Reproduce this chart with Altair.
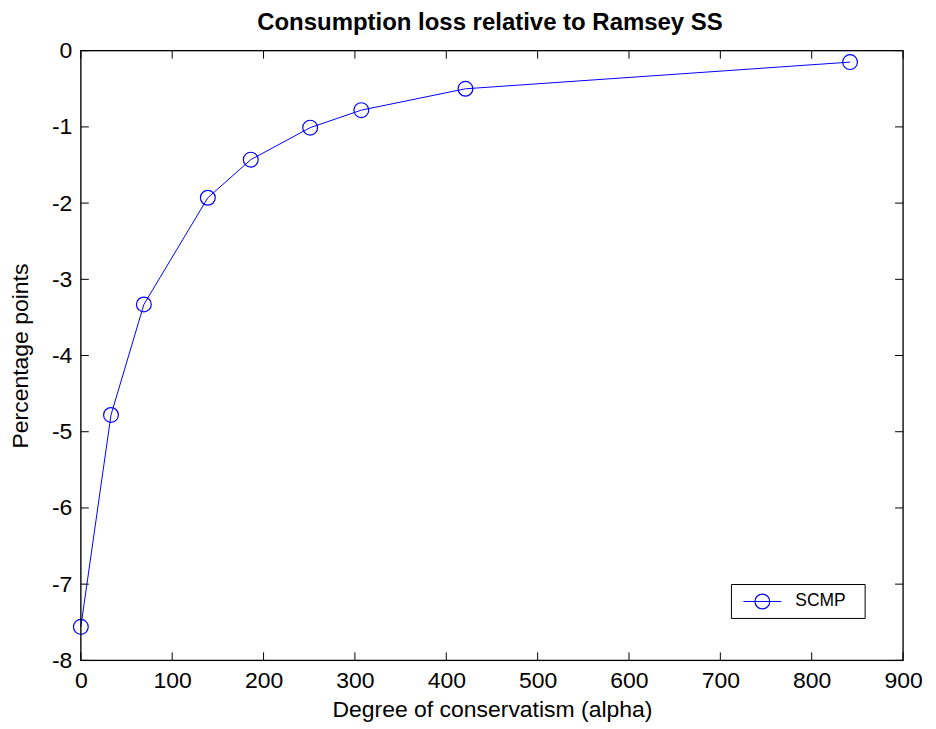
import altair as alt
import pandas as pd

alpha = [0, 33, 69, 139, 186, 251, 307, 421, 842]
loss = [-7.56, -4.78, -3.33, -1.93, -1.43, -1.01, -0.78, -0.50, -0.15]
x_ticks = [0, 100, 200, 300, 400, 500, 600, 700, 800, 900]
y_ticks = [0, -1, -2, -3, -4, -5, -6, -7, -8]
series_name = "SCMP"
chart_title = "Consumption loss relative to Ramsey SS"

W, H = 824, 611
BLUE = "#0000FF"
FONT = "Liberation Sans"
TL = 8
FS = 23

df = pd.DataFrame({"alpha": alpha, "loss": loss})
xt = pd.DataFrame({"v": x_ticks})
yt = pd.DataFrame({"v": y_ticks})

xs = alt.Scale(domain=[0, 900], nice=False, zero=False)
ys = alt.Scale(domain=[-8, 0], nice=False, zero=False)

xaxis = alt.Axis(values=x_ticks, ticks=False, domain=False, grid=False,
                 labelExpr="'' + datum.value", labelFlush=False, labelOverlap=False,
                 labelFont=FONT, labelFontSize=FS, labelColor="black",
                 labelPadding=9, title="Degree of conservatism (alpha)",
                 titleFont=FONT, titleFontSize=FS, titleFontWeight="normal",
                 titleColor="black", titleBaseline="alphabetic",
                 titleX=W / 2, titleY=56, titleAnchor="middle")
yaxis = alt.Axis(values=y_ticks, ticks=False, domain=False, grid=False,
                 labelExpr="'' + datum.value", labelFlush=False, labelOverlap=False,
                 labelFont=FONT, labelFontSize=FS, labelColor="black",
                 labelPadding=9, title="Percentage points",
                 titleFont=FONT, titleFontSize=FS, titleFontWeight="normal",
                 titleColor="black", titleBaseline="middle", titleAngle=-90,
                 titleX=-60, titleY=H / 2, titleAnchor="middle")

base = alt.Chart(df)

line = base.mark_line(color=BLUE, strokeWidth=1).encode(
    x=alt.X("alpha:Q", scale=xs, axis=xaxis),
    y=alt.Y("loss:Q", scale=ys, axis=yaxis),
)
pts = base.mark_point(shape="circle", size=220, color=BLUE, filled=False,
                      strokeWidth=1.2, opacity=1).encode(
    x=alt.X("alpha:Q", scale=xs),
    y=alt.Y("loss:Q", scale=ys),
)

frame = alt.Chart(pd.DataFrame({"f": [0]})).mark_rect(
    fill="transparent", stroke="black", strokeWidth=1.3).encode(
    x=alt.value(0), x2=alt.value(W), y=alt.value(0), y2=alt.value(H))

tick_b = alt.Chart(xt).mark_rule(color="black", strokeWidth=1).encode(
    x=alt.X("v:Q", scale=xs), y=alt.value(H), y2=alt.value(H - TL))
tick_t = alt.Chart(xt).mark_rule(color="black", strokeWidth=1).encode(
    x=alt.X("v:Q", scale=xs), y=alt.value(0), y2=alt.value(TL))
tick_l = alt.Chart(yt).mark_rule(color="black", strokeWidth=1).encode(
    y=alt.Y("v:Q", scale=ys), x=alt.value(0), x2=alt.value(TL))
tick_r = alt.Chart(yt).mark_rule(color="black", strokeWidth=1).encode(
    y=alt.Y("v:Q", scale=ys), x=alt.value(W), x2=alt.value(W - TL))

leg = pd.DataFrame({"name": [series_name]})
LX0, LY0, LX1, LY1 = 652, 535, 786, 569
LCY = (LY0 + LY1) / 2
leg_box = alt.Chart(leg).mark_rect(fill="white", stroke="black", strokeWidth=1).encode(
    x=alt.value(LX0), x2=alt.value(LX1), y=alt.value(LY0), y2=alt.value(LY1))
leg_line = alt.Chart(leg).mark_rule(color=BLUE, strokeWidth=1).encode(
    x=alt.value(LX0 + 12), x2=alt.value(LX0 + 50), y=alt.value(LCY))
leg_pt = alt.Chart(leg).mark_point(shape="circle", size=220, color=BLUE,
                                   filled=False, strokeWidth=1.2, opacity=1).encode(
    x=alt.value(LX0 + 31), y=alt.value(LCY))
leg_txt = alt.Chart(leg).mark_text(align="left", baseline="middle", font=FONT,
                                   fontSize=17.5, color="black").encode(
    x=alt.value(LX0 + 64), y=alt.value(LCY), text="name:N")

ttl = pd.DataFrame({"t": [chart_title]})
title_txt = alt.Chart(ttl).mark_text(align="center", baseline="alphabetic",
                                     font=FONT, fontSize=24, fontWeight="bold",
                                     color="black").encode(
    x=alt.value(W / 2 - 2), y=alt.value(-21), text="t:N")

chart = alt.layer(
    line, pts, frame, tick_b, tick_t, tick_l, tick_r,
    leg_box, leg_line, leg_pt, leg_txt, title_txt
).properties(
    width=W, height=H,
    autosize=alt.AutoSizeParams(type="none"),
    padding={"left": 73, "top": 42, "right": 25, "bottom": 64},
).configure_view(strokeWidth=0).configure(background="white")

chart.save("out.html", embed_options={"renderer": "svg", "actions": False})
